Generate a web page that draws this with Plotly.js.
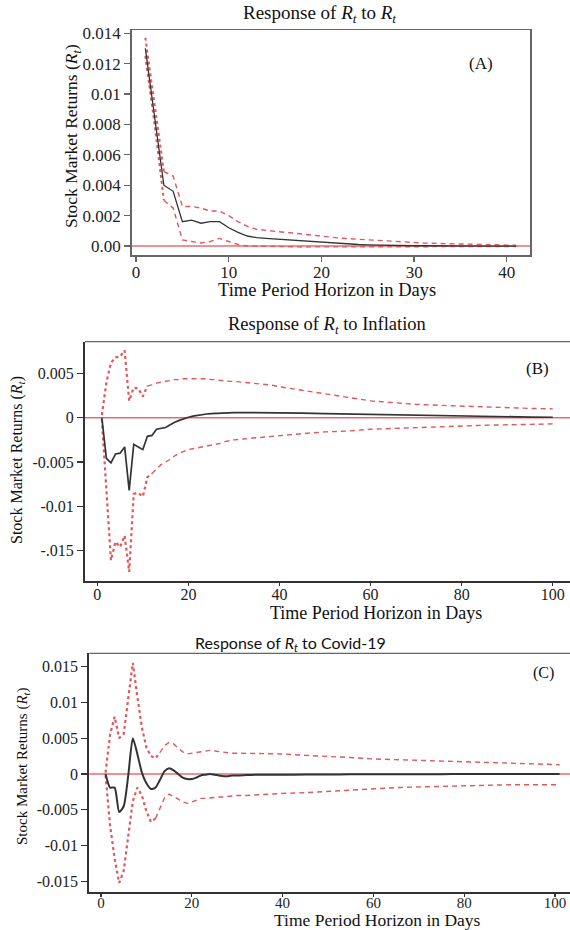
<!DOCTYPE html>
<html>
<head>
<meta charset="utf-8">
<script src="https://cdn.plot.ly/plotly-3.0.1.min.js"></script>
<style>
html,body{margin:0;padding:0;overflow:hidden;background:#fff;}
#chart{width:600px;height:930px;}
</style>
</head>
<body>
<div id="chart"></div>
<script>
// ---------- Panel A: response of R_t to R_t ----------
const daysA = [1,2,3,4,5,6,7,8,9,10,11,12,13,14,15,16,17,18,19,20,21,22,23,24,25,26,27,28,29,30,31,32,33,34,35,36,37,38,39,40,41];
const irfA = [0.0130,0.0086,0.0040,0.0036,0.0016,0.0017,0.0015,0.0016,0.0016,0.0012,0.0009,0.00066,0.00055,0.0005,0.00046,0.00042,0.00037,0.00032,0.00027,0.00022,0.00018,0.00015,0.00012,0.0001,0.00008,0.00006,0.00005,0.00004,0.00003,0.00002,0.00002,0.00001,0.00001,0.00001,0.00001,0.0,0.0,0.0,0.0,0.0,0.0];
const upperA = [0.0137,0.0092,0.0049,0.0046,0.0026,0.0026,0.0025,0.0023,0.0023,0.0020,0.0016,0.0013,0.0011,0.00102,0.00096,0.0009,0.00085,0.00078,0.0007,0.00062,0.00057,0.00052,0.00048,0.00044,0.0004,0.00036,0.00032,0.00029,0.00026,0.00023,0.0002,0.00018,0.00016,0.00014,0.00012,0.0001,0.00009,0.00008,0.00007,0.00006,0.00005];
const lowerA = [0.0125,0.0080,0.0030,0.0025,0.0004,0.0003,0.0002,0.0003,0.0005,0.0003,0.0001,0.0,-0.00002,-0.00003,-0.00004,-0.00005,-0.00005,-0.00006,-0.00006,-0.00006,-0.00006,-0.00006,-0.00006,-0.00006,-0.00006,-0.00006,-0.00006,-0.00006,-0.00006,-0.00005,-0.00005,-0.00005,-0.00005,-0.00004,-0.00004,-0.00004,-0.00004,-0.00003,-0.00003,-0.00003,-0.00003];

// ---------- Panel B: response of R_t to Inflation ----------
const daysB = [1,2,3,4,5,6,7,8,9,10,11,12,13,14,15,16,17,18,19,20,21,22,23,24,25,26,27,28,29,30,32,34,36,38,40,45,50,55,60,65,70,75,80,85,90,95,100];
const irfB = [0,-0.0046,-0.0051,-0.0041,-0.0040,-0.0033,-0.0082,-0.0030,-0.0033,-0.0036,-0.0021,-0.0020,-0.0013,-0.0012,-0.0011,-0.0008,-0.0005,-0.0003,-0.0001,0.00005,0.00018,0.00028,0.00036,0.00042,0.00047,0.0005,0.00053,0.00055,0.00056,0.00057,0.00058,0.00058,0.00058,0.00057,0.00056,0.00052,0.00047,0.00042,0.00037,0.00032,0.00027,0.00022,0.00018,0.00014,0.0001,0.00007,0.00005];
const upperB = [0.0003,0.0040,0.0062,0.0068,0.0069,0.0076,0.0019,0.0034,0.0033,0.0024,0.0036,0.0037,0.0039,0.0040,0.0041,0.0042,0.0043,0.0043,0.0044,0.0044,0.0044,0.0044,0.0044,0.0044,0.0043,0.0043,0.0042,0.0042,0.0041,0.0041,0.0040,0.0039,0.0038,0.0037,0.0035,0.0031,0.0027,0.0023,0.0019,0.0017,0.0015,0.0014,0.0013,0.0012,0.0011,0.00105,0.001];
const lowerB = [-0.0002,-0.0084,-0.0161,-0.0140,-0.0146,-0.0133,-0.0174,-0.0086,-0.0085,-0.0089,-0.0067,-0.0063,-0.0058,-0.0053,-0.0050,-0.0047,-0.0043,-0.0040,-0.0038,-0.0036,-0.0035,-0.0034,-0.0033,-0.0032,-0.0031,-0.0030,-0.0029,-0.0027,-0.0026,-0.0025,-0.0024,-0.0023,-0.0022,-0.0021,-0.0020,-0.0018,-0.0016,-0.0015,-0.0013,-0.0012,-0.0011,-0.0010,-0.0009,-0.00085,-0.0008,-0.00075,-0.0007];

// ---------- Panel C: response of R_t to Covid-19 ----------
const daysC = [1,2,3,4,5,6,7,8,9,10,11,12,13,14,15,16,17,18,19,20,21,22,23,24,25,26,27,28,29,30,32,34,36,38,40,45,50,55,60,65,70,75,80,85,90,95,101];
const irfC = [0,-0.0019,-0.0019,-0.0053,-0.0045,-0.0002,0.0050,0.0028,0.0002,-0.0013,-0.0021,-0.0019,-0.0008,0.0004,0.0008,0.0005,0.0,-0.0005,-0.0007,-0.0007,-0.0005,-0.0002,-0.0001,0.0,-0.0001,-0.0002,-0.0003,-0.0003,-0.0002,-0.0002,-0.00015,-0.0001,-0.0001,-0.0001,-0.0001,-0.00008,-0.00006,-0.00005,-0.00004,-0.00003,-0.00002,-0.00002,-0.00001,-0.00001,-0.00001,0.0,0.0];
const upperC = [0.0002,0.0055,0.0080,0.0050,0.0056,0.0105,0.0155,0.0108,0.0065,0.0037,0.0025,0.0022,0.0030,0.0040,0.0044,0.0042,0.0036,0.0031,0.0028,0.0029,0.0031,0.0032,0.0033,0.0033,0.0032,0.0031,0.0030,0.0029,0.0029,0.0029,0.0029,0.0029,0.0028,0.0028,0.0028,0.0026,0.0025,0.0023,0.0021,0.0020,0.0019,0.0018,0.0017,0.0016,0.0015,0.0014,0.0013];
const lowerC = [-0.0002,-0.0072,-0.0118,-0.0152,-0.0135,-0.0085,-0.0038,-0.0019,-0.0030,-0.0052,-0.0067,-0.0062,-0.0047,-0.0033,-0.0028,-0.0031,-0.0035,-0.0039,-0.0041,-0.0039,-0.0036,-0.0034,-0.0034,-0.0033,-0.0033,-0.0032,-0.0032,-0.0031,-0.0031,-0.0030,-0.0030,-0.0029,-0.0029,-0.0028,-0.0027,-0.0026,-0.0024,-0.0022,-0.0020,-0.0019,-0.0018,-0.0017,-0.0016,-0.0016,-0.0015,-0.0015,-0.0015];

// tick labels
const tickValsA = [0,0.002,0.004,0.006,0.008,0.01,0.012,0.014];
const tickTextA = ["0.00","0.002","0.004","0.006","0.008","0.01","0.012","0.014"];
const tickValsB = [0.005,0,-0.005,-0.01,-0.015];
const tickTextB = ["0.005","0","-0.005","-0.01","-.015"];
const tickValsC = [0.015,0.01,0.005,0,-0.005,-0.01,-0.015];
const tickTextC = ["0.015","0.01","0.005","0","-0.005","-0.01","-0.015"];
const xTicksA = [0,10,20,30,40];
const xTicksBC = [0,20,40,60,80,100];

// ---------- styling / layout ----------
const W = 600, H = 930;
const px = v => v / W;
const py = v => 1 - v / H;
const SERIF = "Liberation Serif, Times New Roman, serif";
const RED = "#e0575c";
const BLACK = "#333333";

function split(arr, k, part) { return part === 0 ? arr.slice(0, k) : arr.slice(k - 1); }

function bandTraces(days, up, lo, kUp, kLo, xa, ya, wDot) {
  const t = [];
  [[up, kUp], [lo, kLo]].forEach(([arr, k]) => {
    t.push({x: split(days, k, 0), y: split(arr, k, 0), xaxis: xa, yaxis: ya, mode: 'lines',
      line: {color: RED, width: wDot, dash: 'dot'}, hoverinfo: 'skip'});
    t.push({x: split(days, k, 1), y: split(arr, k, 1), xaxis: xa, yaxis: ya, mode: 'lines',
      line: {color: RED, width: 1.4, dash: '5px,4px'}, hoverinfo: 'skip'});
  });
  return t;
}

const traces = [];
traces.push(...bandTraces(daysA, upperA, lowerA, 3, 3, 'x', 'y', 2));
traces.push({x: daysA, y: irfA, xaxis: 'x', yaxis: 'y', mode: 'lines', line: {color: BLACK, width: 1.3}});
traces.push(...bandTraces(daysB, upperB, lowerB, 11, 12, 'x2', 'y2', 2.2));
traces.push({x: daysB, y: irfB, xaxis: 'x2', yaxis: 'y2', mode: 'lines', line: {color: BLACK, width: 1.7}});
traces.push(...bandTraces(daysC, upperC, lowerC, 13, 12, 'x3', 'y3', 2.2));
traces.push({x: daysC, y: irfC, xaxis: 'x3', yaxis: 'y3', mode: 'lines', line: {color: BLACK, width: 2, shape: 'spline', smoothing: 0.6}});

const tickFontA = {family: SERIF, size: 17, color: '#222'};
const tickFontX = {family: SERIF, size: 16, color: '#222'};
const tickFontXC = {family: SERIF, size: 15, color: '#222'};
const tickFontY = {family: SERIF, size: 16, color: '#222'};

function xaxisCfg(anchor, dom, range, tv, linew, lc, mirror, font, tl, so) {
  return {anchor: anchor, domain: dom, range: range, tickvals: tv, ticktext: tv.map(String), ticks: 'outside', ticklen: tl,
    ticklabelstandoff: so,
    tickcolor: lc, tickwidth: 1.3, showline: true, linecolor: lc, linewidth: linew, mirror: mirror,
    showgrid: false, zeroline: false, tickfont: font, fixedrange: true};
}
function yaxisCfg(anchor, dom, range, tv, tt, linew, lc, mirror, font) {
  return {anchor: anchor, domain: dom, range: range, tickvals: tv, ticktext: tt, ticks: 'outside', ticklen: 6,
    tickcolor: lc, tickwidth: 1.3, showline: true, linecolor: lc, linewidth: linew, mirror: mirror,
    showgrid: false, zeroline: false, tickfont: font, fixedrange: true};
}

const ann = (x, y, text, size, extra) => Object.assign({xref: 'paper', yref: 'paper', x: px(x), y: py(y),
  text: text, showarrow: false, xanchor: 'center', yanchor: 'middle',
  font: {family: SERIF, size: size, color: '#111'}}, extra || {});

const RT = "<i>R<sub>t</sub></i>";

const layout = {
  width: W, height: H, margin: {l: 0, r: 0, t: 0, b: 0},
  paper_bgcolor: '#fff', plot_bgcolor: '#fff', showlegend: false,
  xaxis: xaxisCfg('y', [px(131.7), px(530)], [-0.47, 42.5], xTicksA, 1.5, '#666', true, tickFontA, 5, -4),
  yaxis: yaxisCfg('x', [py(255), py(30)], [-0.00059, 0.01421], tickValsA, tickTextA, 1.5, '#666', true, tickFontA),
  xaxis2: xaxisCfg('y2', [px(85), px(590)], [-2.70, 108.17], xTicksBC, 2, '#333', false, tickFontX, 3, -5),
  yaxis2: yaxisCfg('x2', [py(581), py(341.7)], [-0.01843, 0.00858], tickValsB, tickTextB, 2, '#333', false, tickFontY),
  xaxis3: xaxisCfg('y3', [px(89.3), px(590)], [-2.58, 107.7], xTicksBC, 2, '#333', false, tickFontXC, 3, -7),
  yaxis3: yaxisCfg('x3', [py(891.7), py(653.3)], [-0.01642, 0.01684], tickValsC, tickTextC, 2, '#333', false, tickFontY),
  shapes: [
    {type: 'line', xref: 'x domain', yref: 'y', x0: 0, x1: 1, y0: 0, y1: 0, line: {color: '#e86b70', width: 1.4}, layer: 'below'},
    {type: 'line', xref: 'x2 domain', yref: 'y2', x0: 0, x1: 1, y0: 0, y1: 0, line: {color: '#e86b70', width: 1.4}, layer: 'below'},
    {type: 'line', xref: 'x3 domain', yref: 'y3', x0: 0, x1: 1, y0: 0, y1: 0, line: {color: '#e86b70', width: 1.4}, layer: 'below'},
    {type: 'line', xref: 'x2 domain', yref: 'y2 domain', x0: 0, x1: 1, y0: 1, y1: 1, line: {color: '#666', width: 1.3}},
    {type: 'line', xref: 'x3 domain', yref: 'y3 domain', x0: 0, x1: 1, y0: 1, y1: 1, line: {color: '#666', width: 1.3}}
  ],
  annotations: [
    ann(319, 14, "Response of " + RT + " to " + RT, 19),
    ann(481, 63, "(A)", 17),
    ann(327, 289.5, "Time Period Horizon in Days", 18.5),
    ann(72, 136, "Stock Market Returns (" + RT + ")", 17.5, {textangle: -90}),

    ann(327, 325, "Response of " + RT + " to Inflation", 18.5),
    ann(537, 368, "(B)", 17),
    ann(376, 613, "Time Period Horizon in Days", 18),
    ann(17, 460, "Stock Market Returns (" + RT + ")", 16, {textangle: -90}),

    ann(290, 643, "Response of " + RT + " to Covid-19", 16, {font: {family: "Lato, Open Sans, sans-serif", size: 16, color: '#111'}}),
    ann(543, 673, "(C)", 16),
    ann(377, 919.5, "Time Period Horizon in Days", 17.5),
    ann(23, 767, "Stock Market Returns (" + RT + ")", 15, {textangle: -90})
  ]
};

Plotly.newPlot('chart', traces, layout, {displayModeBar: false, staticPlot: true});
</script>
</body>
</html>
